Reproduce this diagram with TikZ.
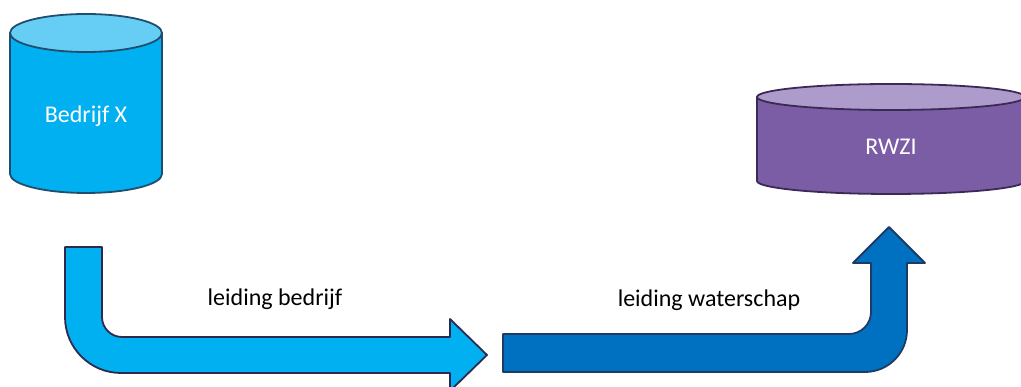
\documentclass[tikz,border=0pt]{standalone}
\usepackage{fontspec}
\setmainfont{Carlito}
\definecolor{skyfill}{HTML}{00B0F0}
\definecolor{skytop}{HTML}{66CDF5}
\definecolor{skyedge}{HTML}{1F4E6E}
\definecolor{violetfill}{HTML}{7B5DA6}
\definecolor{violettop}{HTML}{AD9CCB}
\definecolor{violetedge}{HTML}{3B2A56}
\definecolor{pipeedge}{HTML}{2E2A4F}
\definecolor{deepblue}{HTML}{0070C0}
\definecolor{deepedge}{HTML}{1F3B64}
\begin{document}
\begin{tikzpicture}[x=1pt,y=1pt,
  shape edge/.style={line width=1.8pt,line join=round},
  inner text/.style={text=white,font=\fontsize{24}{28}\selectfont,anchor=base,inner sep=0pt},
  pipe text/.style={text=black,font=\fontsize{24}{28}\selectfont,anchor=base,inner sep=0pt}]
\useasboundingbox (0,0) rectangle (1021,387);
\clip (0,0) rectangle (1021,387);

% company tank
\filldraw[shape edge,fill=skyfill,draw=skyedge]
  (10,354) -- (10,213) arc[start angle=180,end angle=360,x radius=76,y radius=19] -- (162,354) -- cycle;
\filldraw[shape edge,fill=skytop,draw=skyedge] (86,354) ellipse[x radius=76,y radius=19];
\node[inner text] (bedrijf) at (86,264) {Bedrijf X};

% treatment plant
\filldraw[shape edge,fill=violetfill,draw=violetedge]
  (757,290) -- (757,206) arc[start angle=180,end angle=360,x radius=134,y radius=13] -- (1025,290) -- cycle;
\filldraw[shape edge,fill=violettop,draw=violetedge] (891,290) ellipse[x radius=134,y radius=13];
\node[inner text] (rwzi) at (891,232) {RWZI};

% company pipe: down, then right
\filldraw[shape edge,fill=skyfill,draw=pipeedge]
  (65,140) -- (65,70) arc[start angle=180,end angle=270,radius=56] -- (450,14)
  -- (450,-4) -- (487,32) -- (450,68) -- (450,50) -- (122,50)
  arc[start angle=270,end angle=180,radius=20] -- (102,140) -- cycle;
\node[pipe text] (lb) at (275,81) {leiding bedrijf};

% water authority pipe: right, then up
\filldraw[shape edge,fill=deepblue,draw=deepedge]
  (503,15) -- (865,15) arc[start angle=270,end angle=360,radius=42] -- (907,124)
  -- (925,124) -- (889,160) -- (853,124) -- (871,124) -- (871,75)
  arc[start angle=0,end angle=-90,radius=22] -- (503,53) -- cycle;
\node[pipe text] (lw) at (709,80) {leiding waterschap};
\end{tikzpicture}
\end{document}
